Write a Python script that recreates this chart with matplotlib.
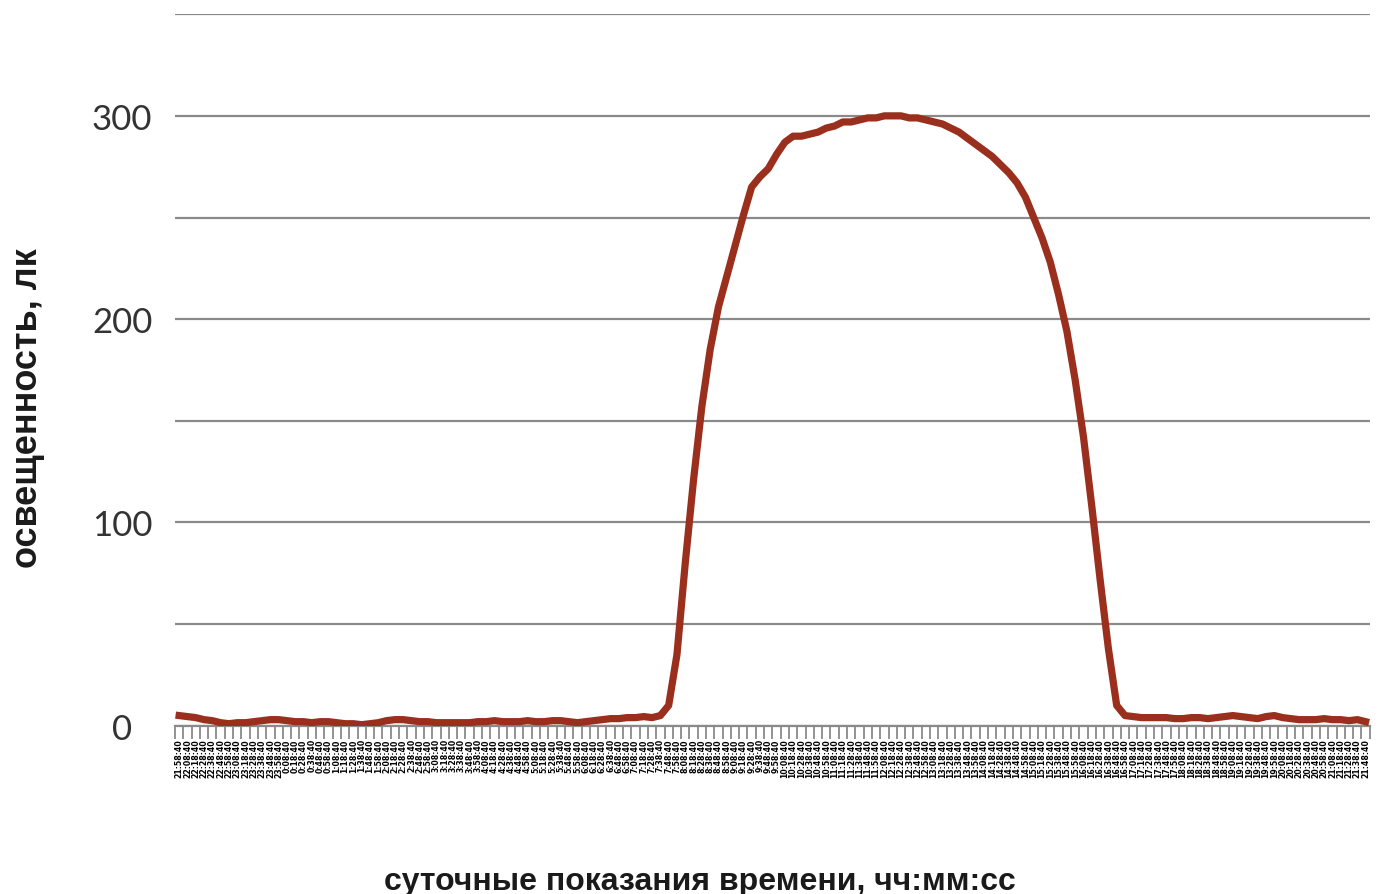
import matplotlib
matplotlib.use("Agg")
import matplotlib.pyplot as plt
import numpy as np
from matplotlib.ticker import MultipleLocator, FixedLocator

# освещенность, лк - one reading every 10 minutes
lux = [
    5, 4.5, 4, 3, 2.5, 1.5, 1, 1.5, 1.5, 2,
    2.5, 3, 3, 2.5, 2, 2, 1.5, 2, 2, 1.5,
    1, 1, 0.5, 1, 1.5, 2.5, 3, 3, 2.5, 2,
    2, 1.5, 1.5, 1.5, 1.5, 1.5, 2, 2, 2.5, 2,
    2, 2, 2.5, 2, 2, 2.5, 2.5, 2, 1.5, 2,
    2.5, 3, 3.5, 3.5, 4, 4, 4.5, 4, 5, 10,
    35, 80, 121, 157, 185, 206, 221, 236, 251, 265,
    270, 274, 281, 287, 290, 290, 291, 292, 294, 295,
    297, 297, 298, 299, 299, 300, 300, 300, 299, 299,
    298, 297, 296, 294, 292, 289, 286, 283, 280, 276,
    272, 267, 260, 250, 240, 228, 212, 194, 170, 142,
    108, 72, 38, 10, 5, 4.5, 4, 4, 4, 4,
    3.5, 3.5, 4, 4, 3.5, 4, 4.5, 5, 4.5, 4,
    3.5, 4.5, 5, 4, 3.5, 3, 3, 3, 3.5, 3,
    3, 2.5, 3, 2,
]

start_h, start_m, start_s = 21, 58, 40
step_min = 10
time_labels = []
for k in range(len(lux)):
    t = start_h * 3600 + start_m * 60 + start_s + k * step_min * 60
    t %= 24 * 3600
    time_labels.append(f"{t // 3600}:{(t % 3600) // 60:02d}:{t % 60:02d}")

y_ticks = [0, 100, 200, 300]

line_color = "#9a2f1d"
grid_color = "#8a8a8a"

fig = plt.figure(figsize=(13.78, 8.95), dpi=100)
ax = fig.add_axes([0.127, 0.188, 0.867, 0.795])

x = np.arange(len(lux))
ax.plot(x, lux, color=line_color, lw=5.2, solid_joinstyle="round", zorder=3)

ax.set_xlim(-0.5, len(lux) - 0.5)
ax.set_ylim(0, 350)

ax.yaxis.set_major_locator(FixedLocator(y_ticks))
ax.yaxis.set_minor_locator(MultipleLocator(50))
ax.grid(True, axis="y", which="both", color=grid_color, lw=1.6)
ax.set_axisbelow(True)
ax.tick_params(axis="y", which="both", length=0, pad=38)
for lab in ax.get_yticklabels():
    lab.set_fontfamily(["Lato", "DejaVu Sans"])
    lab.set_fontsize(25)
    lab.set_color("#333333")
    lab.set_horizontalalignment("center")

ax.set_xticks(x)
ax.set_xticklabels(time_labels, rotation=90, fontsize=5.6,
                   fontfamily="DejaVu Sans", fontweight="bold", va="top")
ax.xaxis.set_minor_locator(MultipleLocator(1, offset=0.5))
ax.tick_params(axis="x", which="major", length=0, pad=9)
ax.tick_params(axis="x", which="minor", length=9, width=1.3,
               color=grid_color, direction="out")

for side in ["left", "right", "top"]:
    ax.spines[side].set_visible(False)
ax.spines["bottom"].set_color(grid_color)
ax.spines["bottom"].set_linewidth(1.6)

fig.text(0.508, 1 - 882 / 895, "суточные показания времени, чч:мм:сс",
         ha="center", va="center", fontsize=23, fontweight="bold",
         fontfamily="Liberation Sans", color="#1a1a1a")
fig.text(0.02, 1 - 408 / 895, "освещенность, лк", rotation=90,
         ha="center", va="center", fontsize=26, fontweight="bold",
         fontfamily="Liberation Sans", color="#1a1a1a")

fig.savefig("out.png", dpi=100, facecolor="white")
